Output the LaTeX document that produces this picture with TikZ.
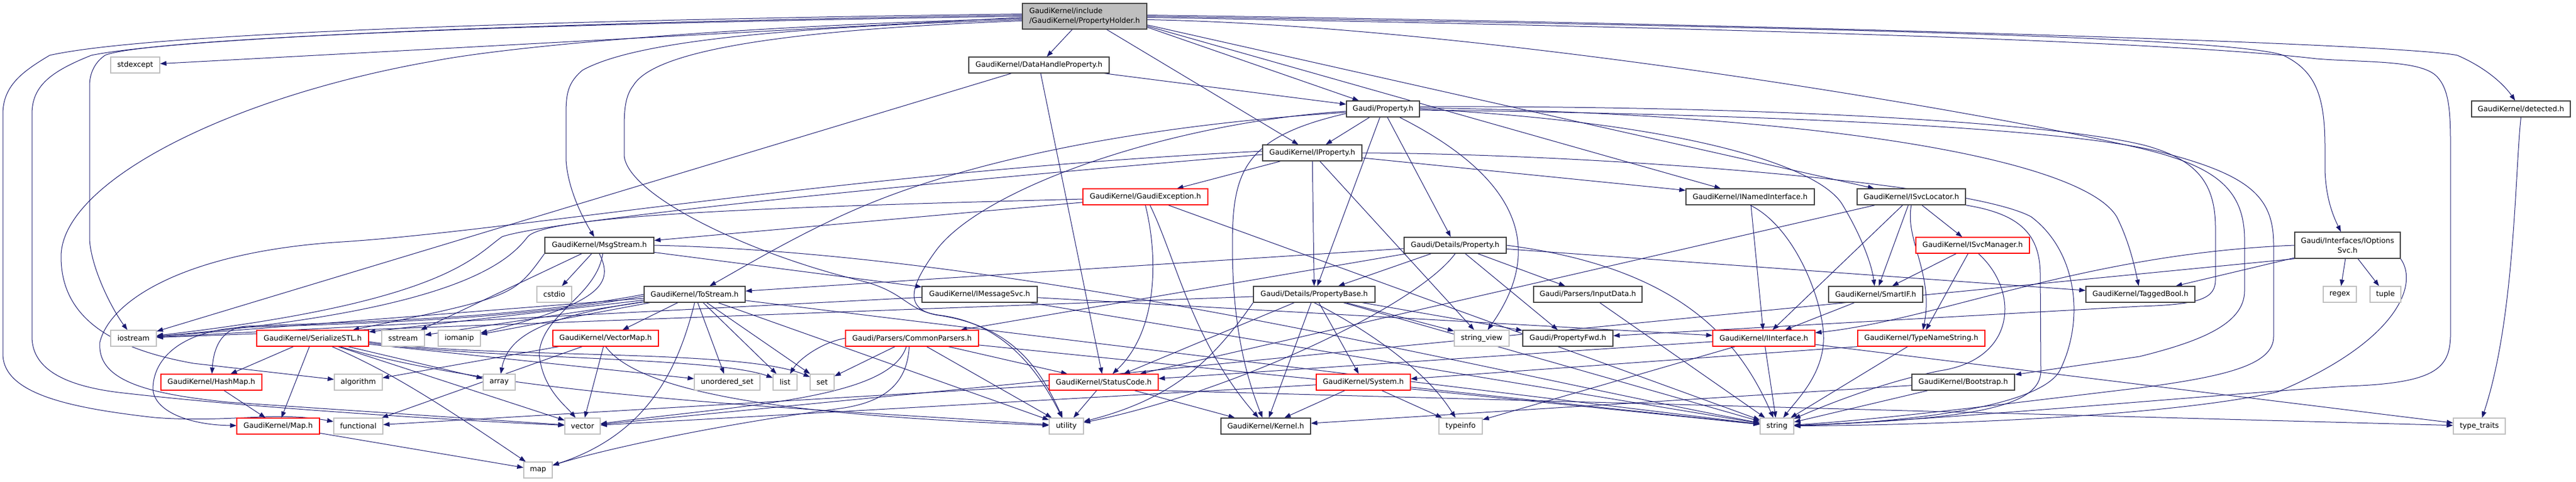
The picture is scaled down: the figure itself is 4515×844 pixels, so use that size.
\documentclass[tikz,border=0pt]{standalone}
\usepackage{fontspec}
\setmainfont{DejaVu Sans}
\usepackage{tikz}
\usetikzlibrary{arrows.meta}
\definecolor{edgeblue}{HTML}{191970}
\definecolor{docgray}{HTML}{404040}
\definecolor{sysgray}{HTML}{BFBFBF}
\definecolor{cutred}{HTML}{FF0000}
\pgfdeclarelayer{edges}
\pgfsetlayers{edges,main}

\begin{document}
\begin{tikzpicture}[x=1pt,y=-1pt,
			file node/.style={draw=docgray,fill=white,line width=1.4pt,inner sep=0pt,
				minimum height=28pt,font=\fontsize{12.8}{17}\selectfont},
			cut node/.style={file node,draw=cutred,line width=1.2pt},
			sys node/.style={file node,draw=sysgray,line width=1.3pt},
			top node/.style={file node,fill=sysgray,align=left},
			dep edge/.style={-{Triangle[length=11pt,width=8pt]},draw=edgeblue,line width=1pt}]

			\node[top node,minimum width=218pt,minimum height=45pt] (root) at (1901,28.5) {GaudiKernel/include\\/GaudiKernel/PropertyHolder.h};
			\node[file node,minimum width=246pt] (dhp) at (1821,114) {GaudiKernel/DataHandleProperty.h};
			\node[sys node,minimum width=86pt] (stdexc) at (237,114) {stdexcept};
			\node[file node,minimum width=128pt] (gprop) at (2424,191) {Gaudi/Property.h};
			\node[file node,minimum width=173pt] (detected) at (4418.5,191) {GaudiKernel/detected.h};
			\node[file node,minimum width=174pt] (iprop) at (2300,268) {GaudiKernel/IProperty.h};
			\node[cut node,minimum width=219pt] (gexc) at (2007.5,345) {GaudiKernel/GaudiException.h};
			\node[file node,minimum width=225pt] (inamed) at (3067.5,345) {GaudiKernel/INamedInterface.h};
			\node[file node,minimum width=190pt] (isvcloc) at (3350,345) {GaudiKernel/ISvcLocator.h};
			\node[file node,minimum width=191pt] (msgstream) at (1050.5,430) {GaudiKernel/MsgStream.h};
			\node[file node,minimum width=179pt] (detprop) at (2550.5,430) {Gaudi/Details/Property.h};
			\node[cut node,minimum width=199pt] (isvcmgr) at (3457.5,430) {GaudiKernel/ISvcManager.h};
			\node[file node,minimum width=185pt,minimum height=46pt,align=center] (iopts) at (4114.5,430) {Gaudi/Interfaces/IOptions\\Svc.h};
			\node[sys node,minimum width=61pt] (cstdio) at (971.5,516) {cstdio};
			\node[file node,minimum width=177pt] (tostream) at (1217.5,516) {GaudiKernel/ToStream.h};
			\node[file node,minimum width=202pt] (imsgsvc) at (1717,516) {GaudiKernel/IMessageSvc.h};
			\node[file node,minimum width=213pt] (propbase) at (2303.5,516) {Gaudi/Details/PropertyBase.h};
			\node[file node,minimum width=190pt] (inputdata) at (2783,516) {Gaudi/Parsers/InputData.h};
			\node[file node,minimum width=165pt] (smartif) at (3287.5,516) {GaudiKernel/SmartIF.h};
			\node[file node,minimum width=191pt] (taggedbool) at (3751.5,516) {GaudiKernel/TaggedBool.h};
			\node[sys node,minimum width=58pt] (regex) at (4101,516) {regex};
			\node[sys node,minimum width=54pt] (tuple) at (4181,516) {tuple};
			\node[sys node,minimum width=80pt] (iostream) at (234,593) {iostream};
			\node[cut node,minimum width=196pt] (serstl) at (548,593) {GaudiKernel/SerializeSTL.h};
			\node[sys node,minimum width=75pt] (sstream) at (706.5,593) {sstream};
			\node[sys node,minimum width=74pt] (iomanip) at (805,593) {iomanip};
			\node[cut node,minimum width=185pt] (vecmap) at (1061.5,593) {GaudiKernel/VectorMap.h};
			\node[cut node,minimum width=233pt] (commonp) at (1598.5,593) {Gaudi/Parsers/CommonParsers.h};
			\node[sys node,minimum width=96pt] (strview) at (2597,593) {string\_view};
			\node[file node,minimum width=158pt] (propfwd) at (2748,593) {Gaudi/PropertyFwd.h};
			\node[cut node,minimum width=179pt] (iiface) at (3091.5,593) {GaudiKernel/IInterface.h};
			\node[cut node,minimum width=223pt] (typename) at (3367.5,593) {GaudiKernel/TypeNameString.h};
			\node[cut node,minimum width=177pt] (hashmap) at (370.5,670) {GaudiKernel/HashMap.h};
			\node[sys node,minimum width=84pt] (algorithm) at (628,670) {algorithm};
			\node[sys node,minimum width=56pt] (array) at (875,670) {array};
			\node[sys node,minimum width=115pt] (uset) at (1274.5,670) {unordered\_set};
			\node[sys node,minimum width=42pt] (list) at (1376,670) {list};
			\node[sys node,minimum width=42pt] (set) at (1441,670) {set};
			\node[cut node,minimum width=191pt] (statuscode) at (1934.5,670) {GaudiKernel/StatusCode.h};
			\node[cut node,minimum width=165pt] (system) at (2389.5,670) {GaudiKernel/System.h};
			\node[file node,minimum width=180pt] (bootstrap) at (3441,670) {GaudiKernel/Bootstrap.h};
			\node[cut node,minimum width=145pt] (gmap) at (487.5,747) {GaudiKernel/Map.h};
			\node[sys node,minimum width=86pt] (functional) at (628,747) {functional};
			\node[sys node,minimum width=62pt] (vector) at (1021,747) {vector};
			\node[sys node,minimum width=60pt] (utility) at (1869,747) {utility};
			\node[file node,minimum width=157pt] (kernel) at (2218.5,747) {GaudiKernel/Kernel.h};
			\node[sys node,minimum width=76pt] (typeinfo) at (2560,747) {typeinfo};
			\node[sys node,minimum width=59pt] (string) at (3114.5,747) {string};
			\node[sys node,minimum width=91pt] (typetraits) at (4345.5,747) {type\_traits};
			\node[sys node,minimum width=50pt] (map) at (943,824) {map};

			\begin{pgfonlayer}{edges}
			\path[use as bounding box,fill=white] (0,0) rectangle (4515,844);
			% PropertyHolder.h
			\draw[dep edge] ([yshift=-2pt]root.west) -- (stdexc);
			\draw[dep edge] ([yshift=4pt]root.west) .. controls (900,36) and (250,60) .. (87,97)
				.. controls (40,125) and (5,150) .. (5,200) -- (5,620)
				.. controls (5,690) and (120,715) .. (271,732) .. controls (400,742) and (480,720) .. (functional);
			\draw[dep edge] ([yshift=2pt]root.west) .. controls (900,40) and (300,68) .. (160,97)
				.. controls (90,125) and (56,150) .. (56,200) -- (56,590)
				.. controls (56,650) and (120,677) .. (208,688) .. controls (450,716) and (800,737) .. (vector);
			\draw[dep edge] (root.west) .. controls (700,45) and (230,75) .. (184,97)
				.. controls (165,110) and (157,130) .. (157,150) -- (157,420)
				.. controls (160,470) and (195,540) .. (iostream);
			\draw[dep edge] ([yshift=-4pt]root.west) .. controls (1300,45) and (900,80) .. (760,107)
				.. controls (400,170) and (107,320) .. (107,450)
				.. controls (107,560) and (200,612) .. (339,637) -- (algorithm);
			\draw[dep edge] ([yshift=-6pt]root.west) .. controls (1300,50) and (1100,80) .. (1021,123)
				.. controls (995,145) and (992,165) .. (992,200) -- (992,280)
				.. controls (995,330) and (1020,380) .. (msgstream);
			\draw[dep edge] ([yshift=-8pt]root.west) .. controls (1300,55) and (1140,100) .. (1110,150)
				.. controls (1094,170) and (1094,200) .. (1094,230) -- (1094,273)
				.. controls (1100,340) and (1300,440) .. (1500,490)
				.. controls (1590,510) and (1585,545) .. (1650,553)
				.. controls (1760,568) and (1820,650) .. (utility);
			\draw[dep edge] (root) -- (dhp);
			\draw[dep edge] (root) -- (iprop);
			\draw[dep edge] ([yshift=4pt]root.south east) -- (gprop);
			\draw[dep edge] ([yshift=6pt]root.south east) -- (inamed);
			\draw[dep edge] ([yshift=8pt]root.south east) -- (isvcloc);
			\draw[dep edge] ([yshift=2pt]root.east) .. controls (3000,40) and (4200,75) .. (4307,97)
				.. controls (4360,120) and (4390,150) .. (detected);
			\draw[dep edge] (root.east) .. controls (3000,45) and (3900,62) .. (4002,97)
				.. controls (4060,125) and (4075,170) .. (4075,260) -- (4075,300)
				.. controls (4077,350) and (4090,380) .. (iopts);
			\draw[dep edge] ([yshift=-2pt]root.east) .. controls (3000,48) and (3800,72) .. (4060,103)
				.. controls (4150,110) and (4245,105) .. (4272,135)
				.. controls (4290,155) and (4295,185) .. (4295,250) -- (4295,590)
				.. controls (4293,645) and (4270,672) .. (4113,677)
				.. controls (3900,690) and (3400,737) .. (string);
			\draw[dep edge] ([yshift=-6pt]root.east) .. controls (2600,45) and (3500,200) .. (3760,262)
				.. controls (3880,292) and (3934,330) .. (3934,420) -- (3934,510)
				.. controls (3934,570) and (3850,600) .. (3750,625) -- (bootstrap);
			% DataHandleProperty.h
			\draw[dep edge] (dhp) -- (gprop);
			\draw[dep edge] (dhp) -- (statuscode);
			\draw[dep edge] (dhp) -- (iostream);
			% Gaudi/Property.h
			\draw[dep edge] (gprop) -- (iprop);
			\draw[dep edge] (gprop) -- (propbase);
			\draw[dep edge] (gprop) -- (detprop);
			\draw[dep edge] (gprop) .. controls (2640,300) and (2720,420) .. (strview);
			\draw[dep edge] ([yshift=-4pt]gprop.west) .. controls (2050,215) and (1720,330) .. (1640,440)
				.. controls (1600,495) and (1580,540) .. (1640,552)
				.. controls (1770,570) and (1820,640) .. (utility);
			\draw[dep edge] ([yshift=-6pt]gprop.west) .. controls (2000,220) and (1700,280) .. (1500,367)
				.. controls (1400,410) and (1300,470) .. (tostream);
			\draw[dep edge] ([yshift=-8pt]gprop.west) .. controls (2180,240) and (2160,300) .. (2160,430)
				.. controls (2160,560) and (2180,650) .. (kernel);
			\draw[dep edge] (gprop.east) .. controls (2950,215) and (3190,290) .. (3230,360)
				.. controls (3260,410) and (3280,460) .. (smartif);
			\draw[dep edge] ([yshift=2pt]gprop.east) .. controls (3200,200) and (3650,280) .. (3710,380)
				.. controls (3730,420) and (3740,460) .. (taggedbool);
			\draw[dep edge] ([yshift=4pt]gprop.east) .. controls (3100,185) and (3600,215) .. (3760,255)
				.. controls (3850,280) and (3883,320) .. (3883,400) -- (3883,490)
				.. controls (3883,522) and (3860,534) .. (3750,537) -- (propfwd);
			\draw[dep edge] ([yshift=-2pt]gprop.east) .. controls (3100,200) and (3650,225) .. (3800,270)
				.. controls (3950,310) and (3985,350) .. (3985,430) -- (3985,590)
				.. controls (3985,640) and (3900,660) .. (3750,680)
				.. controls (3500,710) and (3300,735) .. (string);
			% IProperty.h
			\draw[dep edge] (iprop) -- (inamed);
			\draw[dep edge] (iprop) -- (gexc);
			\draw[dep edge] (iprop) -- (propbase);
			\draw[dep edge] (iprop) -- (strview);
			\draw[dep edge] (iprop.east) .. controls (2800,270) and (3450,320) .. (3560,380)
				.. controls (3640,440) and (3655,560) .. (3610,650)
				.. controls (3570,720) and (3300,742) .. (string);
			\draw[dep edge] ([yshift=-3pt]iprop.west) .. controls (1500,330) and (950,390) .. (880,415)
				.. controls (830,450) and (780,530) .. (iostream);
			\draw[dep edge] ([yshift=3pt]iprop.west) .. controls (1500,300) and (900,405) .. (600,424)
				.. controls (340,440) and (195,520) .. (175,600)
				.. controls (170,665) and (250,690) .. (400,705) -- (vector);
			% GaudiException.h
			\draw[dep edge] (gexc) -- (msgstream);
			\draw[dep edge] ([yshift=-4pt]gexc.west) .. controls (1400,362) and (960,375) .. (925,415)
				.. controls (890,460) and (800,545) .. (iostream);
			\draw[dep edge] (gexc.south) .. controls (2030,450) and (2030,580) .. (statuscode);
			\draw[dep edge] ([xshift=8pt]gexc.south) .. controls (2060,450) and (2090,600) .. (kernel);
			\draw[dep edge] (gexc) -- (string);
			% interfaces
			\draw[dep edge] (inamed) -- (iiface);
			\draw[dep edge] (inamed.south) .. controls (3150,400) and (3200,540) .. (3196,600)
				.. controls (3192,660) and (3150,700) .. (string);
			\draw[dep edge] (isvcloc) -- (iiface);
			\draw[dep edge] (isvcloc) -- (isvcmgr);
			\draw[dep edge] (isvcloc) -- (smartif);
			\draw[dep edge] (isvcloc.south) .. controls (3338,420) and (3390,480) .. (typename);
			\draw[dep edge] (isvcloc.south east) .. controls (3540,375) and (3575,410) .. (3576,480) -- (3577,650)
				.. controls (3577,715) and (3450,735) .. (string);
			\draw[dep edge] (isvcloc) -- (statuscode);
			\draw[dep edge] (isvcmgr) -- (smartif);
			\draw[dep edge] (isvcmgr) -- (typename);
			\draw[dep edge] ([xshift=10pt]isvcmgr.south) .. controls (3540,510) and (3535,630) .. (3400,650)
				.. controls (3300,670) and (3200,710) .. (string);
			\draw[dep edge] (smartif) -- (iiface);
			\draw[dep edge] (typename) -- (string);
			\draw[dep edge] (typename.south west) -- (system);
			\draw[dep edge] (iiface) -- (statuscode);
			\draw[dep edge] (iiface) -- (typeinfo);
			\draw[dep edge] (iiface) -- (typetraits);
			\draw[dep edge] (iiface) -- (string);
			\draw[dep edge] (imsgsvc) -- (iiface);
			\draw[dep edge] (imsgsvc) -- (iostream);
			\draw[dep edge] (imsgsvc) -- (string);
			% MsgStream.h
			\draw[dep edge] (msgstream) -- (imsgsvc);
			\draw[dep edge] (msgstream.south west) .. controls (900,520) .. (serstl);
			\draw[dep edge] (msgstream) -- (cstdio);
			\draw[dep edge] (msgstream.south) .. controls (1075,495) and (1060,530) .. (iomanip);
			\draw[dep edge] ([xshift=6pt]msgstream.south) .. controls (1045,520) and (950,550) .. (945,620)
				.. controls (950,680) and (990,710) .. (vector);
			\draw[dep edge] (msgstream) -- (sstream);
			\draw[dep edge] (msgstream.east) .. controls (1800,445) and (2600,650) .. (string);
			% ToStream.h
			\draw[dep edge] (tostream) -- (vecmap);
			\draw[dep edge] (tostream.south) .. controls (1190,640) and (1140,760) .. (map);
			\draw[dep edge] (tostream) -- (uset);
			\draw[dep edge] (tostream) -- (list);
			\draw[dep edge] (tostream) -- (set);
			\draw[dep edge] (tostream) -- (iomanip);
			\draw[dep edge] (tostream) -- (iostream);
			\draw[dep edge] (tostream) -- (sstream);
			\draw[dep edge] (tostream) -- (serstl);
			\draw[dep edge] (tostream.west) .. controls (900,560) and (600,565) .. (430,572)
				.. controls (395,575) and (375,600) .. (hashmap);
			\draw[dep edge] ([yshift=-3pt]tostream.west) .. controls (900,562) and (600,568) .. (420,574)
				.. controls (330,580) and (270,620) .. (268,680)
				.. controls (268,720) and (330,745) .. (gmap);
			\draw[dep edge] (tostream) .. controls (950,555) and (890,590) .. (array);
			\draw[dep edge] (tostream) -- (utility);
			\draw[dep edge] (tostream) -- (string);
			% SerializeSTL.h and the maps
			\draw[dep edge] (serstl) -- (hashmap);
			\draw[dep edge] (serstl) -- (gmap);
			\draw[dep edge] (serstl) -- (array);
			\draw[dep edge] ([yshift=-8pt]serstl.east) .. controls (850,630) and (1250,625) .. (list);
			\draw[dep edge] ([yshift=-6pt]serstl.east) .. controls (850,630) and (1300,610) .. (set);
			\draw[dep edge] (serstl) .. controls (680,650) and (760,700) .. (map);
			\draw[dep edge] (serstl) -- (vector);
			\draw[dep edge] (serstl) .. controls (900,700) and (1500,720) .. (utility);
			\draw[dep edge] (serstl) -- (uset);
			\draw[dep edge] (vecmap) -- (algorithm);
			\draw[dep edge] (vecmap) -- (functional);
			\draw[dep edge] (vecmap) -- (vector);
			\draw[dep edge] (vecmap.south) .. controls (1130,700) and (1450,730) .. (utility);
			\draw[dep edge] (hashmap) -- (gmap);
			\draw[dep edge] (gmap) -- (map);
			% CommonParsers.h
			\draw[dep edge] (commonp) -- (statuscode);
			\draw[dep edge] (commonp) -- (string);
			\draw[dep edge] ([xshift=-5pt]commonp.south) .. controls (1590,680) and (1540,705) .. (1480,715)
				.. controls (1250,745) and (1050,790) .. (map);
			\draw[dep edge] ([xshift=-10pt]commonp.south) .. controls (1560,700) and (1300,710) .. (vector);
			\draw[dep edge] (commonp.west) .. controls (1440,600) and (1400,630) .. (list);
			\draw[dep edge] (commonp) -- (set);
			\draw[dep edge] (commonp) -- (utility);
			% StatusCode.h, System.h
			\draw[dep edge] (statuscode) -- (utility);
			\draw[dep edge] (statuscode) -- (kernel);
			\draw[dep edge] (statuscode) -- (functional);
			\draw[dep edge] (statuscode.south east) -- (typetraits);
			\draw[dep edge] (system) -- (kernel);
			\draw[dep edge] (system) -- (typeinfo);
			\draw[dep edge] (system) -- (string);
			\draw[dep edge] (system) -- (vector);
			% Gaudi/Details
			\draw[dep edge] (propbase) -- (system);
			\draw[dep edge] (propbase.south) .. controls (2400,580) and (2500,650) .. (typeinfo);
			\draw[dep edge] (propbase) -- (string);
			\draw[dep edge] (propbase) -- (strview);
			\draw[dep edge] (propbase) -- (propfwd);
			\draw[dep edge] (propbase) -- (kernel);
			\draw[dep edge] (propbase) -- (statuscode);
			\draw[dep edge] (propbase.south west) .. controls (2120,640) and (2050,700) .. (utility);
			\draw[dep edge] (propbase) -- (iostream);
			\draw[dep edge] (detprop) -- (propbase);
			\draw[dep edge] (detprop) -- (propfwd);
			\draw[dep edge] (detprop) -- (inputdata);
			\draw[dep edge] (detprop) -- (commonp);
			\draw[dep edge] (detprop) -- (tostream);
			\draw[dep edge] (detprop) -- (taggedbool);
			\draw[dep edge] (detprop.east) .. controls (2950,470) and (3050,600) .. (string);
			\draw[dep edge] (detprop.south) .. controls (2480,540) and (2150,690) .. (utility);
			\draw[dep edge] (inputdata) -- (string);
			% Bootstrap.h, IOptionsSvc.h, detected.h
			\draw[dep edge] (bootstrap) -- (string);
			\draw[dep edge] (bootstrap) -- (kernel);
			\draw[dep edge] (iopts.west) .. controls (3650,445) and (3400,560) .. (iiface);
			\draw[dep edge] (iopts) -- (taggedbool);
			\draw[dep edge] (iopts) -- (regex);
			\draw[dep edge] (iopts) -- (tuple);
			\draw[dep edge] (iopts.south east) .. controls (4240,500) and (4200,600) .. (3992,687)
				.. controls (3800,730) and (3400,745) .. (string);
			\draw[dep edge] (iopts.south west) -- (vector);
			\draw[dep edge] (detected.south) .. controls (4408,300) and (4408,560) .. (typetraits);
			\end{pgfonlayer}
		\end{tikzpicture}
\end{document}
